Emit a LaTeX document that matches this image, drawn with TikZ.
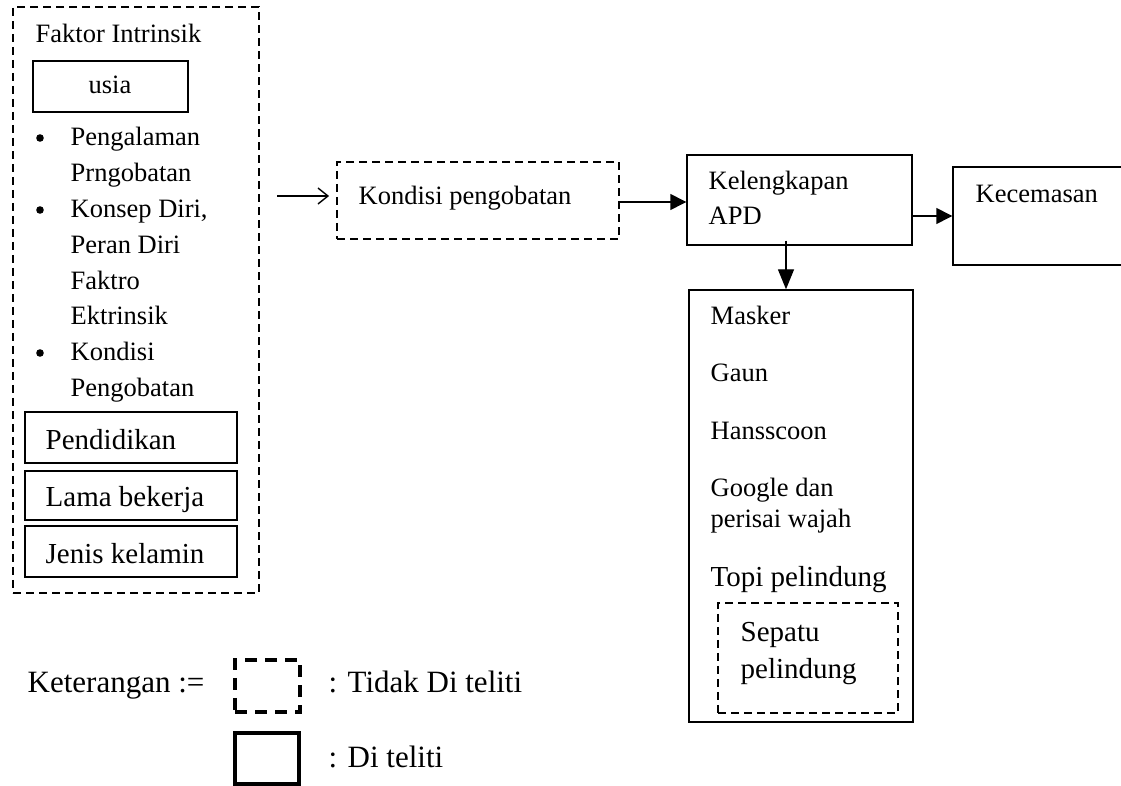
\documentclass[tikz,border=0pt]{standalone}
\usepackage{fontspec}
\setmainfont{Liberation Serif}
\usetikzlibrary{arrows.meta,positioning}

\begin{document}
\begin{tikzpicture}
  [x=0.5pt,y=-0.5pt,line width=0.7pt,
   kotak/.style={draw,inner sep=0pt},
   putus/.style={kotak,line width=0.9pt,dash pattern=on 4pt off 2.5pt},
   teks/.style={anchor=base west,inner sep=0pt,font=\fontsize{13.25}{15}\selectfont},
   besar/.style={teks,font=\fontsize{14.5}{17}\selectfont},
   ket/.style={teks,font=\fontsize{15.5}{18}\selectfont},
   titik/.style={circle,fill,inner sep=0pt,minimum size=3.8pt},
   panah/.style={-{Triangle[length=8pt,width=8pt]}}]

  \useasboundingbox (0,0) rectangle (1121,786);

  % kotak-kotak
  \node[putus,minimum width=123pt,minimum height=293pt] (luar) at (136,300) {};
  \node[kotak,minimum width=77.5pt,minimum height=25.5pt] (usia) at (110.5,86.5) {};
  \node[kotak,minimum width=106pt,minimum height=25.5pt] (pend) at (131,437.5) {};
  \node[kotak,minimum width=106pt,minimum height=24.5pt] (lama) at (131,495.5) {};
  \node[kotak,minimum width=106pt,minimum height=25.5pt] (jenis) at (131,551.5) {};
  \node[putus,minimum width=141pt,minimum height=38.5pt] (kondisi) at (478,200.5) {};
  \node[kotak,minimum width=112.5pt,minimum height=45pt] (apd) at (799.5,200) {};
  \node[kotak,minimum width=88.5pt,minimum height=49pt] (cemas) at (1041.5,216) {};
  \node[kotak,minimum width=112pt,minimum height=216pt] (daftar) at (801,506) {};
  \node[putus,minimum width=90pt,minimum height=55pt] (sepatu) at (808,658) {};

  % teks
  \node[teks] (fi) at (35,43) {Faktor Intrinsik};
  \node[teks,anchor=base] (tusia) at (110,94) {usia};
  \foreach \y/\isi in {146/Pengalaman,182/Prngobatan,218/{Konsep Diri,},254/Peran Diri,
                       290/Faktro,325/Ektrinsik,361/Kondisi,397/Pengobatan}
    \node[teks] (b\y) at (70,\y) {\isi};
  \foreach \y in {146,218,361}
    \node[titik] (titik\y) at (40,\y-8) {};
  \node[besar] (tpend) at (45,450) {Pendidikan};
  \node[besar] (tlama) at (45,507) {Lama bekerja};
  \node[besar] (tjenis) at (45,564) {Jenis kelamin};
  \node[teks] (tkondisi) at (358,205) {Kondisi pengobatan};
  \node[teks] (tapd1) at (708,190) {Kelengkapan};
  \node[teks] (tapd2) at (708,225) {APD};
  \node[teks] (tcemas) at (975,203) {Kecemasan};
  \foreach \y/\isi in {325/Masker,382/Gaun,440/Hansscoon,497/Google dan,528/perisai wajah}
    \node[teks] (d\y) at (710,\y) {\isi};
  \node[besar] (topi) at (710,587) {Topi pelindung};
  \node[besar] (sep1) at (740,642) {Sepatu};
  \node[besar] (sep2) at (740,678) {pelindung};

  % penghubung
  \coordinate (awal) at (277,196);
  \draw[-{Straight Barb[length=5pt,width=8pt]},shorten >=3.5pt] (awal) -- (awal -| kondisi.west);
  \draw[panah] ([yshift=-0.75pt]kondisi.east) -- ([yshift=-0.75pt]kondisi.east -| apd.west);
  \draw[panah] (apd.east |- cemas.west) -- (cemas.west);
  \draw[-{Triangle[length=10pt,width=8pt]}] ([xshift=-6.75pt,yshift=2.5pt]apd.south) -- ([xshift=-7.5pt]daftar.north);

  % keterangan
  \node[ket] (keterangan) at (27,692) {Keterangan :=};
  \node[kotak,line width=2pt,dash pattern=on 6pt off 4pt,minimum width=32.5pt,minimum height=26pt] (lgputus) at (267.5,686) {};
  \node[kotak,line width=2pt,minimum width=32pt,minimum height=25.5pt] (lgkotak) at (267,758.5) {};
  \node[ket] (tidak) at (328,692) {: Tidak Di teliti};
  \node[ket] (diteliti) at (328,768) {: Di teliti};
\end{tikzpicture}
\end{document}
